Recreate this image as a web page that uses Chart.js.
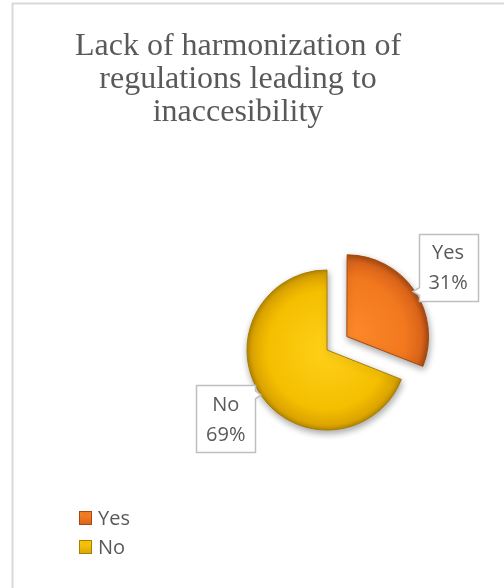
<!DOCTYPE html>
<html>
<head>
<meta charset="utf-8">
<script src="https://cdn.jsdelivr.net/npm/chart.js@4.4.1/dist/chart.umd.min.js"></script>
<style>
  html, body { margin: 0; padding: 0; background: #ffffff; overflow: hidden; }
  canvas { display: block; }
</style>
</head>
<body>
<canvas id="chart" width="504" height="588"></canvas>
<script>
// Chart text and values
const titleLines = ['Lack of harmonization of', 'regulations leading to', 'inaccesibility'];
const categories = ['Yes', 'No'];
const shares = [31, 69];
// Shading for each slice: light centre, body, edge, rim
const sliceLight = ['#FF8A2A', '#FFD01A'];
const sliceBody  = ['#F2781E', '#F5BF00'];
const sliceEdge  = ['#D9631A', '#DCA400'];
const sliceRim   = ['#A4480F', '#A67E00'];
const explode = [96, 0];

const TEXT_GREY = '#595959';
const LABEL_FONT = '20px "Open Sans"';
const PIE_RADIUS = 80;

function sliceGradient(context) {
  const chart = context.chart;
  const i = context.dataIndex;
  const area = chart.chartArea;
  if (!area) return sliceBody[i];
  const cx = (area.left + area.right) / 2;
  const cy = (area.top + area.bottom) / 2;
  const g = chart.ctx.createRadialGradient(cx, cy, 0, cx, cy, PIE_RADIUS + 2);
  g.addColorStop(0, sliceLight[i]);
  g.addColorStop(0.72, sliceBody[i]);
  g.addColorStop(0.92, sliceEdge[i]);
  g.addColorStop(1, sliceRim[i]);
  return g;
}

function totalOf(arr) { return arr.reduce((a, b) => a + b, 0); }

// Frame, title, legend, soft shadow and callout labels
const decorations = {
  id: 'decorations',
  beforeDraw(chart) {
    const ctx = chart.ctx;
    ctx.save();
    ctx.strokeStyle = '#D9D9D9';
    ctx.lineWidth = 2;
    ctx.beginPath();
    ctx.moveTo(12.5, 600);
    ctx.lineTo(12.5, 3.5);
    ctx.lineTo(520, 3.5);
    ctx.stroke();
    ctx.restore();
  },
  beforeDatasetsDraw(chart) {
    const ctx = chart.ctx;
    ctx.save();
    ctx.shadowColor = 'rgba(0,0,0,0.35)';
    ctx.shadowBlur = 7;
    ctx.shadowOffsetX = 1;
    ctx.shadowOffsetY = 3;
  },
  afterDatasetsDraw(chart) {
    const ctx = chart.ctx;
    ctx.restore();
    const meta = chart.getDatasetMeta(0);
    const values = chart.data.datasets[0].data;
    const total = totalOf(values);
    meta.data.forEach((arc, i) => {
      const mid = (arc.startAngle + arc.endAngle) / 2;
      const shift = (arc.options.offset || 0) / 4;
      const cx = arc.x + Math.cos(mid) * shift;
      const cy = arc.y + Math.sin(mid) * shift;
      const r = arc.outerRadius;
      const dist = r * 1.53;
      const bx = cx + Math.cos(mid) * dist;
      const by = cy + Math.sin(mid) * dist;
      const tipX = cx + Math.cos(mid) * r;
      const tipY = cy + Math.sin(mid) * r;
      const pct = Math.round(values[i] / total * 100) + '%';
      const lines = [chart.data.labels[i], pct];
      ctx.save();
      ctx.font = LABEL_FONT;
      const tw = Math.max(...lines.map(t => ctx.measureText(t).width));
      const w = Math.round(tw + 20), h = 67;
      const L = Math.round(bx - w / 2) + 0.5, R = L + w;
      const T = Math.round(by - h / 2) + 0.5, B = T + h;
      // which side of the box the callout leaves from
      let side = null;
      if (tipX < L) side = 'left';
      else if (tipX > R) side = 'right';
      else if (tipY < T) side = 'top';
      else if (tipY > B) side = 'bottom';
      const clampY = v => Math.min(Math.max(v, T + 3), B - 3);
      const clampX = v => Math.min(Math.max(v, L + 3), R - 3);
      ctx.beginPath();
      ctx.moveTo(L, T);
      if (side === 'top') {
        ctx.lineTo(clampX(tipX - 4), T); ctx.lineTo(tipX, tipY); ctx.lineTo(clampX(tipX + 4), T);
      }
      ctx.lineTo(R, T);
      if (side === 'right') {
        ctx.lineTo(R, clampY(tipY - 4)); ctx.lineTo(tipX, tipY); ctx.lineTo(R, clampY(tipY + 4));
      }
      ctx.lineTo(R, B);
      if (side === 'bottom') {
        ctx.lineTo(clampX(tipX + 4), B); ctx.lineTo(tipX, tipY); ctx.lineTo(clampX(tipX - 4), B);
      }
      ctx.lineTo(L, B);
      if (side === 'left') {
        ctx.lineTo(L, clampY(tipY + 4)); ctx.lineTo(tipX, tipY); ctx.lineTo(L, clampY(tipY - 4));
      }
      ctx.closePath();
      ctx.fillStyle = '#FFFFFF';
      ctx.fill();
      ctx.strokeStyle = '#BFBFBF';
      ctx.lineWidth = 1.5;
      ctx.stroke();
      ctx.fillStyle = TEXT_GREY;
      ctx.textAlign = 'center';
      ctx.textBaseline = 'middle';
      ctx.fillText(lines[0], bx, by - 14);
      ctx.fillText(lines[1], bx, by + 16);
      ctx.restore();
    });
  },
  afterDraw(chart) {
    const ctx = chart.ctx;
    ctx.save();
    // title
    ctx.fillStyle = TEXT_GREY;
    ctx.font = '32px "Liberation Serif"';
    ctx.textAlign = 'center';
    ctx.textBaseline = 'alphabetic';
    titleLines.forEach((t, k) => ctx.fillText(t, 238, 55 + k * 33));
    // legend
    ctx.font = LABEL_FONT;
    ctx.textAlign = 'left';
    ctx.textBaseline = 'middle';
    chart.data.labels.forEach((lab, i) => {
      const y = 518 + i * 29;
      const x0 = 79, y0 = y - 7;
      ctx.fillStyle = sliceRim[i];
      ctx.fillRect(x0, y0, 13, 14);
      const g = ctx.createLinearGradient(0, y0, 0, y0 + 14);
      g.addColorStop(0, sliceLight[i]);
      g.addColorStop(1, sliceEdge[i]);
      ctx.fillStyle = g;
      ctx.fillRect(x0 + 1, y0 + 1, 11, 12);
      ctx.fillStyle = sliceBody[i];
      ctx.beginPath();
      ctx.moveTo(x0 + 1, y0 + 1);
      ctx.lineTo(x0 + 12, y0 + 1);
      ctx.lineTo(x0 + 6.5, y0 + 7);
      ctx.closePath();
      ctx.fill();
      ctx.fillStyle = TEXT_GREY;
      ctx.fillText(lab, 98, y + 1);
    });
    ctx.restore();
  }
};

new Chart(document.getElementById('chart'), {
  type: 'pie',
  data: {
    labels: categories,
    datasets: [{
      data: shares,
      backgroundColor: sliceGradient,
      borderColor: sliceRim,
      borderWidth: 1,
      offset: explode,
      hoverOffset: 0,
      radius: PIE_RADIUS
    }]
  },
  options: {
    responsive: false,
    devicePixelRatio: 1,
    animation: false,
    events: [],
    layout: { padding: { left: 150, top: 112, right: 0, bottom: 0 } },
    plugins: {
      legend: { display: false },
      title: { display: false },
      tooltip: { enabled: false }
    }
  },
  plugins: [decorations]
});
</script>
</body>
</html>
